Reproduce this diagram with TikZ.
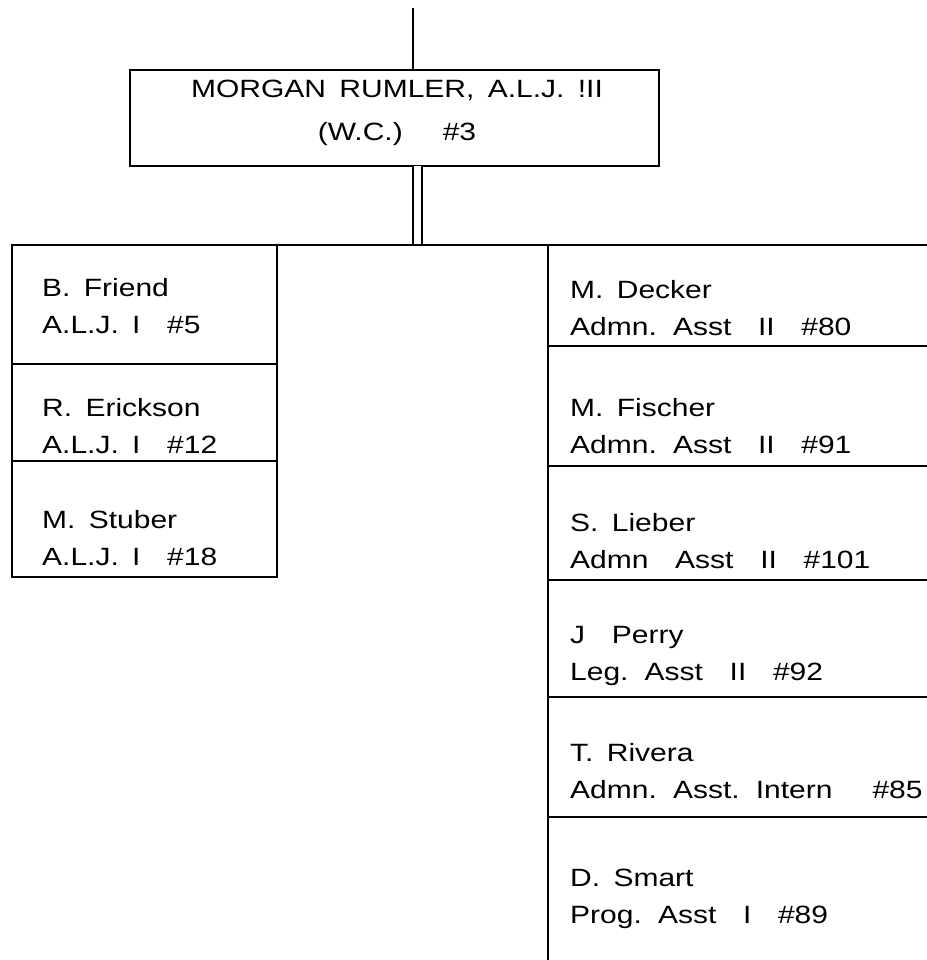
\documentclass[tikz,border=0pt]{standalone}
\usepackage{fontspec}
\setmainfont{Liberation Sans}[FakeStretch=1.2,WordSpace=1.6]
\usetikzlibrary{positioning}

\tikzset{
  post/.style={draw,line width=1.8bp,rectangle,outer sep=0pt,inner sep=0pt,anchor=north west},
  who/.style={anchor=base west,inner sep=0pt,align=left,font=\fontsize{25bp}{37bp}\selectfont},
  link/.style={line width=1.8bp},
}

\begin{document}
\begin{tikzpicture}[x=1bp,y=-1bp]
  \path[use as bounding box,fill=white] (0,0) rectangle (927,960);
  \clip (0,0) rectangle (927,960);
  % head of office
  \node[post,minimum width=529bp,minimum height=96bp] (judge) at (130,70) {};
  \node[anchor=base,inner sep=0pt,align=center,font=\fontsize{25bp}{43bp}\selectfont] (judgetxt) at (397,140)
    {MORGAN RUMLER, A.L.J. !II\\(W.C.)~~ \#3};
  % left column
  \node[post,minimum width=265bp,minimum height=119bp] (friend) at (12,245) {};
  \node[post,minimum width=265bp,minimum height=97bp,below=0pt of friend] (erickson) {};
  \node[post,minimum width=265bp,minimum height=116bp,below=0pt of erickson] (stuber) {};
  % right column (runs off the page)
  \node[post,minimum width=420bp,minimum height=101bp] (decker) at (548,245) {};
  \node[post,minimum width=420bp,minimum height=120bp,below=0pt of decker] (fischer) {};
  \node[post,minimum width=420bp,minimum height=114bp,below=0pt of fischer] (lieber) {};
  \node[post,minimum width=420bp,minimum height=117bp,below=0pt of lieber] (perry) {};
  \node[post,minimum width=420bp,minimum height=120bp,below=0pt of perry] (rivera) {};
  \node[post,minimum width=420bp,minimum height=200bp,below=0pt of rivera] (smart) {};
  % names (placed by the baseline of the last line)
  \node[who] (friendtxt) at (42,333) {B. Friend\\A.L.J. I~ \#5};
  \node[who] (ericksontxt) at (42,453) {R. Erickson\\A.L.J. I~ \#12};
  \node[who] (stubertxt) at (42,565) {M. Stuber\\A.L.J. I~ \#18};
  \node[who] (deckertxt) at (570,335) {M. Decker\\Admn. Asst~ II~ \#80};
  \node[who] (fischertxt) at (570,453) {M. Fischer\\Admn. Asst~ II~ \#91};
  \node[who] (liebertxt) at (570,568) {S. Lieber\\Admn~ Asst~ II~ \#101};
  \node[who] (perrytxt) at (570,680) {J~ Perry\\Leg. Asst~ II~ \#92};
  \node[who] (riveratxt) at (570,798) {T. Rivera\\Admn. Asst. Intern~~ \#85};
  \node[who] (smarttxt) at (570,923) {D. Smart\\Prog. Asst~ I~ \#89};
  % connectors
  \coordinate (feed) at (413,8);
  \coordinate (drop) at (417.3,245);
  \draw[link] (feed) -- (feed |- judge.north);
  \draw[link,double,double distance=6.9bp] (judge.south -| drop) -- (drop);
  \draw[link] (friend.north west) -- (decker.north east);
\end{tikzpicture}
\end{document}
